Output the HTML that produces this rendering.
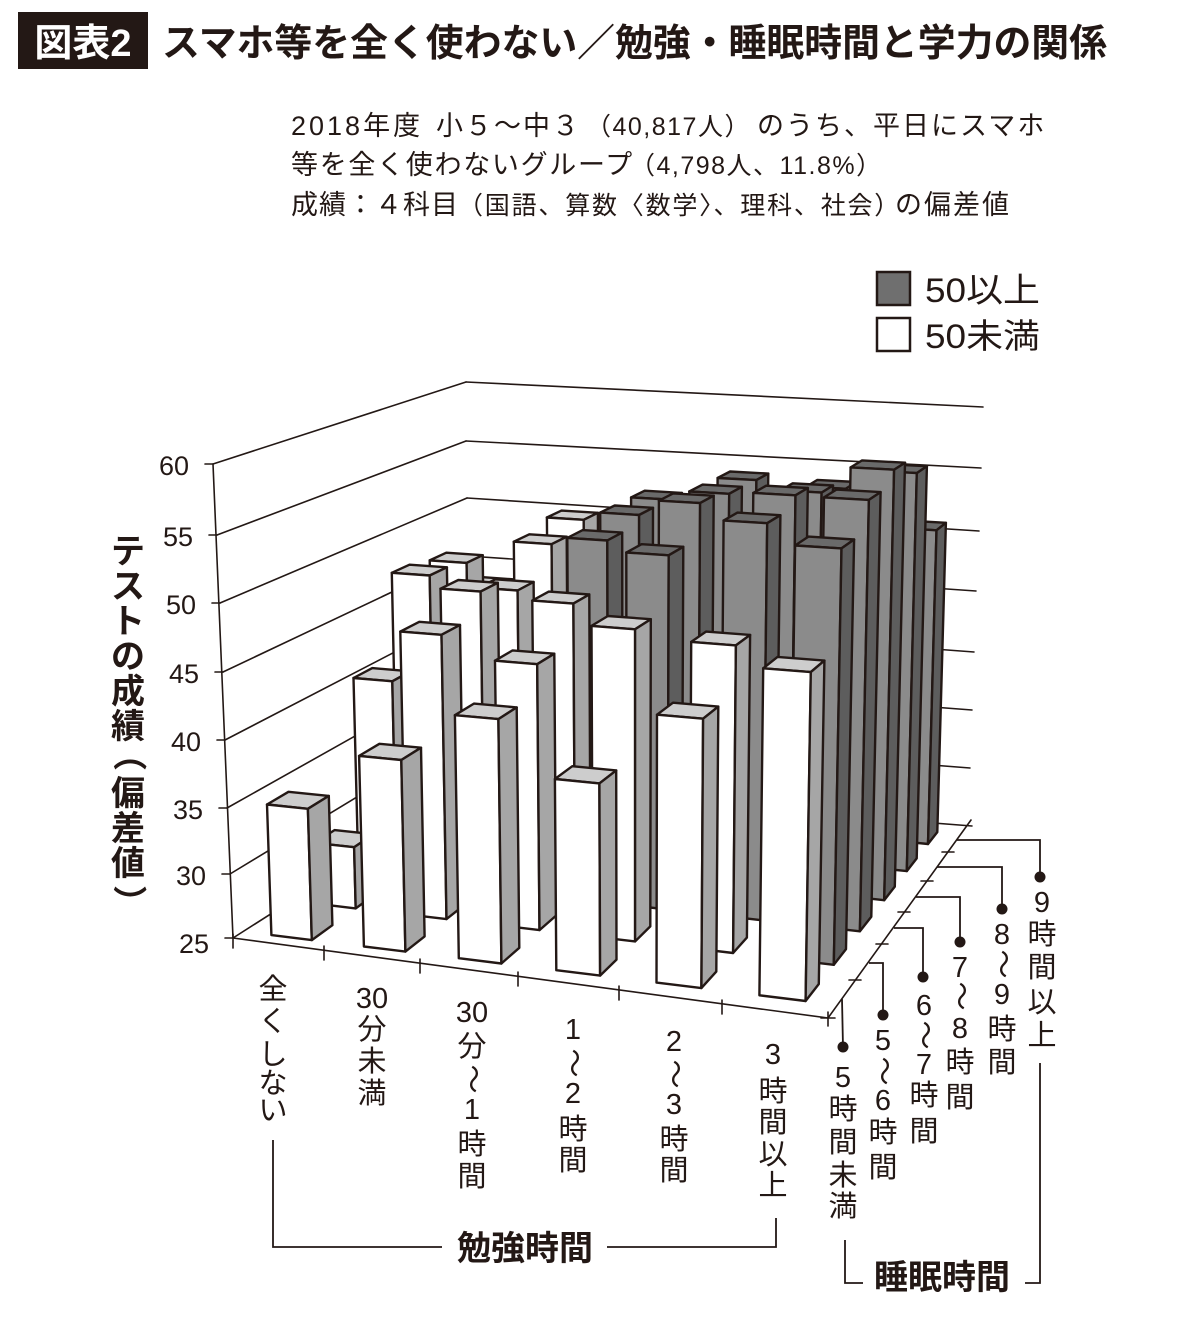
<!DOCTYPE html>
<html><head><meta charset="utf-8">
<style>
html,body{margin:0;padding:0;background:#fff;}
svg{display:block;}
text{font-family:"Liberation Sans","Noto Sans CJK JP",sans-serif;fill:#231815;}
.b{font-weight:bold;}
.c text,text.c{dominant-baseline:central;text-anchor:middle;}
</style></head><body>
<svg id="s" width="1200" height="1320" viewBox="0 0 1200 1320" xmlns="http://www.w3.org/2000/svg">
<rect width="1200" height="1320" fill="#fff"/>

<!-- Title -->
<rect x="18" y="12" width="130" height="57" fill="#231815"/>
<text x="83" y="56" font-size="38" text-anchor="middle" class="b" style="fill:#fff">図表2</text>
<text x="162" y="56" font-size="38" class="b" textLength="945" lengthAdjust="spacingAndGlyphs">スマホ等を全く使わない／勉強・睡眠時間と学力の関係</text>

<!-- Subtitle -->
<text y="135" font-size="27"><tspan x="291" letter-spacing="3">2018年度</tspan><tspan x="436" letter-spacing="2">小５～中３</tspan><tspan x="586" font-size="25" letter-spacing="1.5">（40,817人）</tspan><tspan x="757" letter-spacing="2">のうち、平日にスマホ</tspan></text>
<text y="174" font-size="27"><tspan x="291" letter-spacing="1.7">等を全く使わないグループ</tspan><tspan x="630" font-size="25" letter-spacing="1.5">（4,798人、11.8%）</tspan></text>
<text y="214" font-size="27"><tspan x="291" letter-spacing="1">成績：４科目</tspan><tspan x="458" font-size="25" letter-spacing="1.8">（国語、算数〈数学〉、理科、社会）</tspan><tspan x="895" letter-spacing="2">の偏差値</tspan></text>

<!-- Legend -->
<rect x="877" y="272" width="33" height="33" fill="#6f6f6f" stroke="#231815" stroke-width="2.5"/>
<text x="925" y="302" font-size="34" textLength="115" lengthAdjust="spacingAndGlyphs">50以上</text>
<rect x="877" y="318" width="33" height="33" fill="#fff" stroke="#231815" stroke-width="2.5"/>
<text x="925" y="348" font-size="34" textLength="115" lengthAdjust="spacingAndGlyphs">50未満</text>

<!-- Walls / gridlines -->
<g stroke="#231815" stroke-width="1.6" fill="none" stroke-linecap="round">
<line x1="213" y1="464" x2="466" y2="382"/>
<line x1="217" y1="535" x2="466" y2="441"/>
<line x1="220" y1="603" x2="467" y2="498"/>
<line x1="223" y1="672" x2="468" y2="556"/>
<line x1="225" y1="740" x2="468" y2="614"/>
<line x1="227" y1="808" x2="469" y2="672"/>
<line x1="230" y1="874" x2="469" y2="729"/>
<line x1="233" y1="938" x2="470" y2="787"/>
<line x1="466" y1="382" x2="983" y2="407"/>
<line x1="466" y1="441" x2="981" y2="468"/>
<line x1="467" y1="498" x2="979" y2="531"/>
<line x1="468" y1="556" x2="976" y2="591"/>
<line x1="468" y1="614" x2="974" y2="652"/>
<line x1="469" y1="672" x2="972" y2="710"/>
<line x1="469" y1="729" x2="970" y2="768"/>
<line x1="470" y1="787" x2="972" y2="826"/>
<line x1="213" y1="464" x2="233" y2="938"/>
<line x1="205" y1="464" x2="213" y2="464"/>
<line x1="209" y1="535" x2="217" y2="535"/>
<line x1="212" y1="603" x2="220" y2="603"/>
<line x1="215" y1="672" x2="223" y2="672"/>
<line x1="217" y1="740" x2="225" y2="740"/>
<line x1="219" y1="808" x2="227" y2="808"/>
<line x1="222" y1="874" x2="230" y2="874"/>
<line x1="225" y1="938" x2="233" y2="938"/>
<line x1="233" y1="938" x2="828" y2="1018"/>
<line x1="233" y1="934" x2="233" y2="948"/>
<line x1="324" y1="946" x2="324" y2="960"/>
<line x1="420" y1="959" x2="420" y2="973"/>
<line x1="518" y1="972" x2="518" y2="986"/>
<line x1="619" y1="986" x2="619" y2="1000"/>
<line x1="722" y1="1000" x2="722" y2="1014"/>
<line x1="828" y1="1012" x2="828" y2="1026"/>
<line x1="828" y1="1018" x2="971" y2="820"/>
<line x1="821" y1="1018" x2="835" y2="1018"/>
<line x1="849" y1="980" x2="861" y2="980"/>
<line x1="876" y1="944" x2="888" y2="944"/>
<line x1="898" y1="912" x2="910" y2="912"/>
<line x1="921" y1="881" x2="933" y2="881"/>
<line x1="942" y1="852" x2="954" y2="852"/>
</g>

<g id="bars" stroke="#231815" stroke-width="2.4" stroke-linejoin="round"></g>

<!-- Y tick labels -->
<g font-size="27" text-anchor="end" style="dominant-baseline:central">
<text x="189" y="466">60</text>
<text x="193" y="537">55</text>
<text x="196" y="605">50</text>
<text x="199" y="674">45</text>
<text x="201" y="742">40</text>
<text x="203" y="810">35</text>
<text x="206" y="876">30</text>
<text x="209" y="944">25</text>
</g>

<!-- Y axis title -->
<g class="c b" font-size="34">
<text x="128" y="552">テ</text>
<text x="128" y="587">ス</text>
<text x="128" y="622">ト</text>
<text x="128" y="657">の</text>
<text x="128" y="692">成</text>
<text x="128" y="727">績</text>
<text x="128" y="754" transform="rotate(90 128 754)">（</text>
<text x="128" y="794">偏</text>
<text x="128" y="829">差</text>
<text x="128" y="864">値</text>
<text x="128" y="902" transform="rotate(90 128 902)">）</text>
</g>

<!-- Study time labels -->
<g class="c" font-size="29">
<text x="273" y="990">全</text>
<text x="273" y="1022">く</text>
<text x="273" y="1055">し</text>
<text x="273" y="1084">な</text>
<text x="273" y="1111">い</text>

<text x="372" y="999">30</text>
<text x="372" y="1030">分</text>
<text x="372" y="1062">未</text>
<text x="372" y="1094">満</text>

<text x="472" y="1013">30</text>
<text x="472" y="1047">分</text>
<text x="472" y="1079" transform="rotate(90 472 1079)">～</text>
<text x="472" y="1110">1</text>
<text x="472" y="1145">時</text>
<text x="472" y="1177">間</text>

<text x="573" y="1030">1</text>
<text x="573" y="1063" transform="rotate(90 573 1063)">～</text>
<text x="573" y="1094">2</text>
<text x="573" y="1130">時</text>
<text x="573" y="1161">間</text>

<text x="674" y="1042">2</text>
<text x="674" y="1074" transform="rotate(90 674 1074)">～</text>
<text x="674" y="1105">3</text>
<text x="674" y="1140">時</text>
<text x="674" y="1171">間</text>

<text x="773" y="1055">3</text>
<text x="773" y="1092">時</text>
<text x="773" y="1123">間</text>
<text x="773" y="1155">以</text>
<text x="773" y="1186">上</text>

<!-- sleep labels -->
<text x="843" y="1078">5</text>
<text x="843" y="1110">時</text>
<text x="843" y="1143">間</text>
<text x="843" y="1176">未</text>
<text x="843" y="1207">満</text>

<text x="883" y="1041">5</text>
<text x="883" y="1071" transform="rotate(90 883 1071)">～</text>
<text x="883" y="1101">6</text>
<text x="883" y="1133">時</text>
<text x="883" y="1168">間</text>

<text x="924" y="1006">6</text>
<text x="924" y="1035" transform="rotate(90 924 1035)">～</text>
<text x="924" y="1065">7</text>
<text x="924" y="1096">時</text>
<text x="924" y="1132">間</text>

<text x="960" y="968">7</text>
<text x="960" y="996" transform="rotate(90 960 996)">～</text>
<text x="960" y="1029">8</text>
<text x="960" y="1063">時</text>
<text x="960" y="1098">間</text>

<text x="1002" y="935">8</text>
<text x="1002" y="964" transform="rotate(90 1002 964)">～</text>
<text x="1002" y="995">9</text>
<text x="1002" y="1030">時</text>
<text x="1002" y="1063">間</text>

<text x="1042" y="903">9</text>
<text x="1042" y="935">時</text>
<text x="1042" y="968">間</text>
<text x="1042" y="1003">以</text>
<text x="1042" y="1036">上</text>
</g>

<!-- leaders and brackets -->
<g stroke="#231815" stroke-width="1.8" fill="none">
<polyline points="957,840 1040,840 1040,877"/>
<polyline points="937,867 1002,867 1002,909"/>
<polyline points="916,897 960,897 960,942"/>
<polyline points="894,928 923,928 923,977"/>
<polyline points="869,963 883,963 883,1015"/>
<polyline points="842,999 843,1047"/>
<polyline points="273,1140 273,1247 442,1247"/>
<polyline points="607,1247 776,1247 776,1218"/>
<polyline points="845,1240 845,1283 863,1283"/>
<polyline points="1025,1283 1040,1283 1040,1063"/>
</g>
<g fill="#231815">
<circle cx="1040" cy="877" r="5.5"/>
<circle cx="1002" cy="909" r="5.5"/>
<circle cx="960" cy="942" r="5.5"/>
<circle cx="923" cy="977" r="5.5"/>
<circle cx="883" cy="1015" r="5.5"/>
<circle cx="843" cy="1047" r="5.5"/>
</g>
<text x="525" y="1260" font-size="34" class="b" text-anchor="middle">勉強時間</text>
<text x="942" y="1289" font-size="34" class="b" text-anchor="middle">睡眠時間</text>
</svg>

<script>
(function(){
try{
var P=[
[0,25,0,233,938],[0,30,0,230,874],[0,35,0,227,808],[0,40,0,225,740],[0,45,0,223,672],[0,50,0,220,603],[0,55,0,217,535],[0,60,0,213,464],
[0,60,6,466,382],[0,55,6,466,441],[0,50,6,467,498],[0,45,6,468,556],[0,25,6,470,787],
[6,60,6,980,407],[6,55,6,978,468],[6,50,6,976,531],[6,45,6,974,591],[6,40,6,972,652],[6,35,6,970,710],[6,30,6,968,768],[6,25,6,967,826],
[6,25,0,828,1018],[6,25,1,855,980],[6,25,2,882,944],[6,25,3,904,912],[6,25,4,927,881],[6,25,5,948,852],
[1,25,0,324,950],[2,25,0,420,963],[3,25,0,518,976],[4,25,0,619,990],[5,25,0,722,1004]
];
function solve(A,b){
 var n=b.length,i,r,c,t;
 for(i=0;i<n;i++){
  var m=i; for(r=i+1;r<n;r++) if(Math.abs(A[r][i])>Math.abs(A[m][i])) m=r;
  t=A[i];A[i]=A[m];A[m]=t; t=b[i];b[i]=b[m];b[m]=t;
  for(r=i+1;r<n;r++){var f=A[r][i]/A[i][i]; for(c=i;c<n;c++)A[r][c]-=f*A[i][c]; b[r]-=f*b[i];}
 }
 var x=new Array(n);
 for(i=n-1;i>=0;i--){var s=b[i]; for(c=i+1;c<n;c++) s-=A[i][c]*x[c]; x[i]=s/A[i][i];}
 return x;
}
var N=11,M=[],B=[],a,c;
for(a=0;a<N;a++){var row=[];for(c=0;c<N;c++)row.push(0);M.push(row);B.push(0);}
P.forEach(function(p){
 var X=p[0]/6,Y=(p[1]-25)/35,Z=p[2]/6,u=(p[3]-600)/400,v=(p[4]-700)/400;
 var r1=[X,Y,Z,1,0,0,0,0,-u*X,-u*Y,-u*Z], r2=[0,0,0,0,X,Y,Z,1,-v*X,-v*Y,-v*Z];
 [[r1,u],[r2,v]].forEach(function(rb){var r=rb[0],t=rb[1];
  for(var a=0;a<N;a++){B[a]+=r[a]*t; for(var c=0;c<N;c++) M[a][c]+=r[a]*r[c];}
 });
});
var h=solve(M,B);
function pr(X,Y,Z){X/=6;Y=(Y-25)/35;Z/=6;
 var w=h[8]*X+h[9]*Y+h[10]*Z+1;
 return [600+400*(h[0]*X+h[1]*Y+h[2]*Z+h[3])/w, 700+400*(h[4]*X+h[5]*Y+h[6]*Z+h[7])/w];
}
var vals=[
[34.9,29.8,40.8,47.6,47.2,43.7],
[39.2,46.6,48.3,46.9,49.2,49.9],
[42.8,45.0,47.9,51.3,52.0,52.0],
[38.9,48.1,52.0,54.6,54.1,54.0],
[44.1,47.5,54.8,55.6,54.6,53.7],
[47.9,54.8,56.9,57.9,56.5,50.8]];
var GX0=0.28,GX1=0.72,GZ0=0.28,GZ1=0.74;
var g=document.getElementById('bars'),NS='http://www.w3.org/2000/svg';
function poly(pts,fill){var e=document.createElementNS(NS,'polygon');
 e.setAttribute('points',pts.map(function(p){return p[0].toFixed(1)+','+p[1].toFixed(1);}).join(' '));
 e.setAttribute('fill',fill);g.appendChild(e);}
for(var j=5;j>=0;j--)for(var i=0;i<6;i++){
 var v=vals[i][j],x0=i+GX0,x1=i+GX1,z0=j+GZ0,z1=j+GZ1,dark=v>=50;
 var A=pr(x0,25,z0),Bp=pr(x1,25,z0),C=pr(x1,v,z0),D=pr(x0,v,z0),E=pr(x1,25,z1),F=pr(x1,v,z1),G=pr(x0,v,z1);
 poly([D,C,F,G],dark?'#6a6a6a':'#cdcdcd');
 poly([A,Bp,C,D],dark?'#8b8b8b':'#ffffff');
 poly([Bp,E,F,C],dark?'#5d5d5d':'#a6a6a6');
}
}catch(e){}
})();
</script>
</body></html>
